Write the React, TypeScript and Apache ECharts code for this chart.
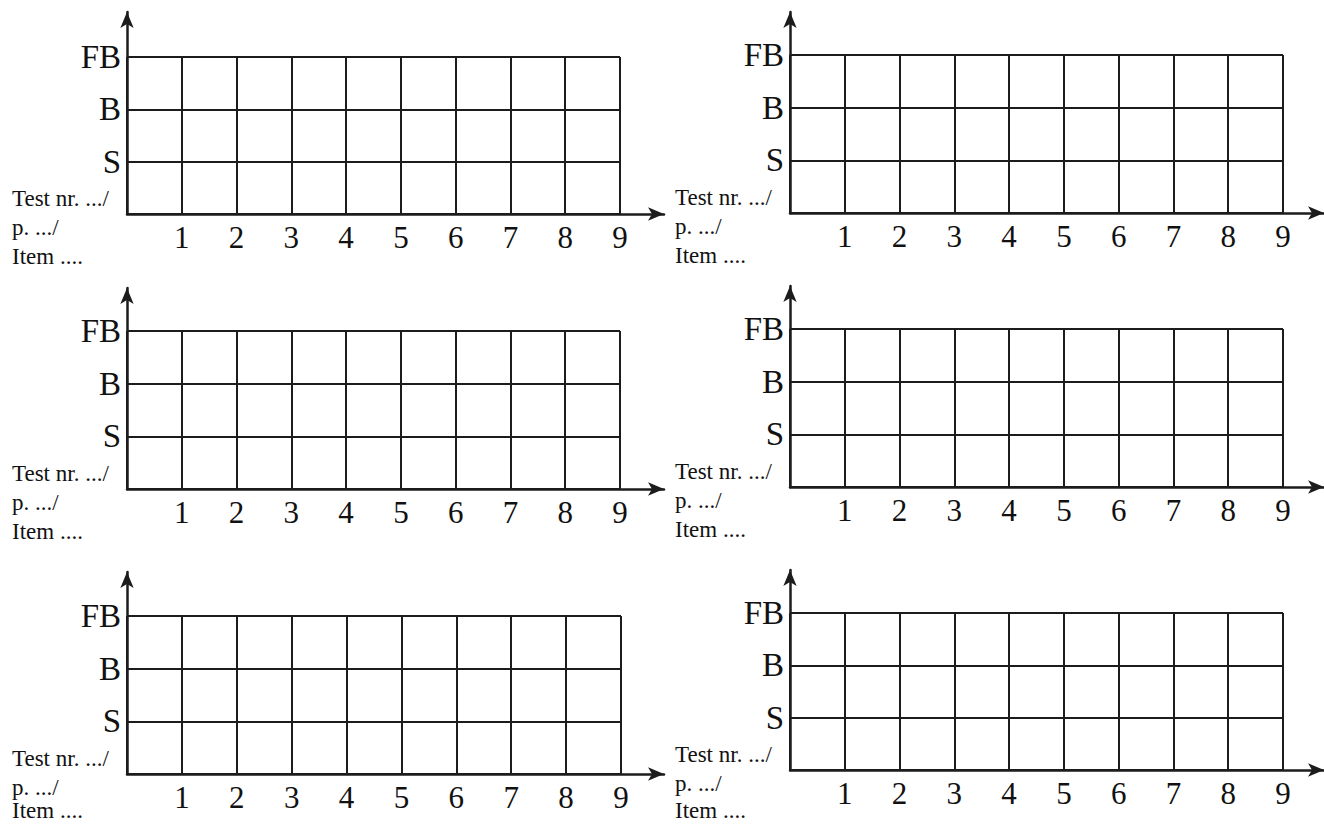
import React, { useEffect, useRef } from "react";
import * as echarts from "echarts";

// ---- data ----
const xTickLabels = ["", "1", "2", "3", "4", "5", "6", "7", "8", "9"];
const yLevelLabels = ["", "S", "B", "FB"];
const sideLabels = ["Test nr. .../", "p. .../", "Item ...."];
const panelCount = 6;

// ---- layout (pixels) ----
type Panel = { x: number; bottom: number; top: number; right: number; arrowTop: number; arrowRight: number };
const panels: Panel[] = [
  { x: 127, bottom: 214, top: 57, right: 620, arrowTop: 12, arrowRight: 664 },
  { x: 790, bottom: 213, top: 55, right: 1283, arrowTop: 12, arrowRight: 1327 },
  { x: 127, bottom: 489, top: 331, right: 620, arrowTop: 288, arrowRight: 664 },
  { x: 790, bottom: 487, top: 329, right: 1283, arrowTop: 286, arrowRight: 1327 },
  { x: 127, bottom: 774, top: 616, right: 621, arrowTop: 572, arrowRight: 664 },
  { x: 790, bottom: 770, top: 613, right: 1283, arrowTop: 570, arrowRight: 1327 },
];

const W = 1324;
const H = 827;
const INK = "#1c1c1c";
const FONT = "'Liberation Serif', 'DejaVu Serif', serif";

export default function App() {
  const ref = useRef<HTMLDivElement>(null);

  useEffect(() => {
    if (!ref.current) return;
    const chart = echarts.init(ref.current, undefined, { renderer: "svg" });

    const grids: any[] = [];
    const xAxes: any[] = [];
    const yAxes: any[] = [];
    const graphics: any[] = [];

    panels.slice(0, panelCount).forEach((p, i) => {
      // grid A: the lined box
      grids.push({
        left: p.x,
        top: p.top,
        width: p.right - p.x,
        height: p.bottom - p.top,
        containLabel: false,
      });
      // grid B: the axes with arrows
      grids.push({
        left: p.x,
        top: p.arrowTop,
        width: p.arrowRight - p.x,
        height: p.bottom - p.arrowTop,
        containLabel: false,
      });
      const a = i * 2;
      const b = i * 2 + 1;
      xAxes.push({
        type: "value",
        gridIndex: a,
        min: 0,
        max: xTickLabels.length - 1,
        interval: 1,
        axisLine: { show: false },
        axisTick: { show: false },
        splitLine: { show: true, lineStyle: { color: INK, width: 2 } },
        axisLabel: {
          show: true,
          margin: 8,
          color: "#111",
          fontFamily: FONT,
          fontSize: 31,
          formatter: (v: number) => xTickLabels[Math.round(v)] ?? "",
        },
      });
      yAxes.push({
        type: "value",
        gridIndex: a,
        min: 0,
        max: yLevelLabels.length - 1,
        interval: 1,
        axisLine: { show: false },
        axisTick: { show: false },
        splitLine: { show: true, lineStyle: { color: INK, width: 2 } },
        axisLabel: {
          show: true,
          margin: 6,
          color: "#111",
          fontFamily: FONT,
          fontSize: 33,
          formatter: (v: number) => yLevelLabels[Math.round(v)] ?? "",
        },
      });
      xAxes.push({
        type: "value",
        gridIndex: b,
        min: 0,
        max: 1,
        axisLine: {
          show: true,
          symbol: ["none", "arrow"],
          symbolSize: [10, 16],
          lineStyle: { color: INK, width: 2.5 },
        },
        axisTick: { show: false },
        axisLabel: { show: false },
        splitLine: { show: false },
      });
      yAxes.push({
        type: "value",
        gridIndex: b,
        min: 0,
        max: 1,
        axisLine: {
          show: true,
          symbol: ["none", "arrow"],
          symbolSize: [10, 16],
          lineStyle: { color: INK, width: 2.5 },
        },
        axisTick: { show: false },
        axisLabel: { show: false },
        splitLine: { show: false },
      });

      sideLabels.forEach((t, k) => {
        graphics.push({
          type: "text",
          left: p.x - 115,
          top: Math.min(p.bottom - 27 + k * 29, H - 28),
          style: {
            text: t,
            fill: "#111",
            font: `23px ${FONT}`,
          },
        });
      });
    });

    chart.setOption({
      animation: false,
      backgroundColor: "#ffffff",
      grid: grids,
      xAxis: xAxes,
      yAxis: yAxes,
      graphic: graphics,
      series: [],
    });

    return () => chart.dispose();
  }, []);

  return (
    <div
      ref={ref}
      style={{ position: "fixed", left: 0, top: 0, width: W, height: H, background: "#fff" }}
    />
  );
}
